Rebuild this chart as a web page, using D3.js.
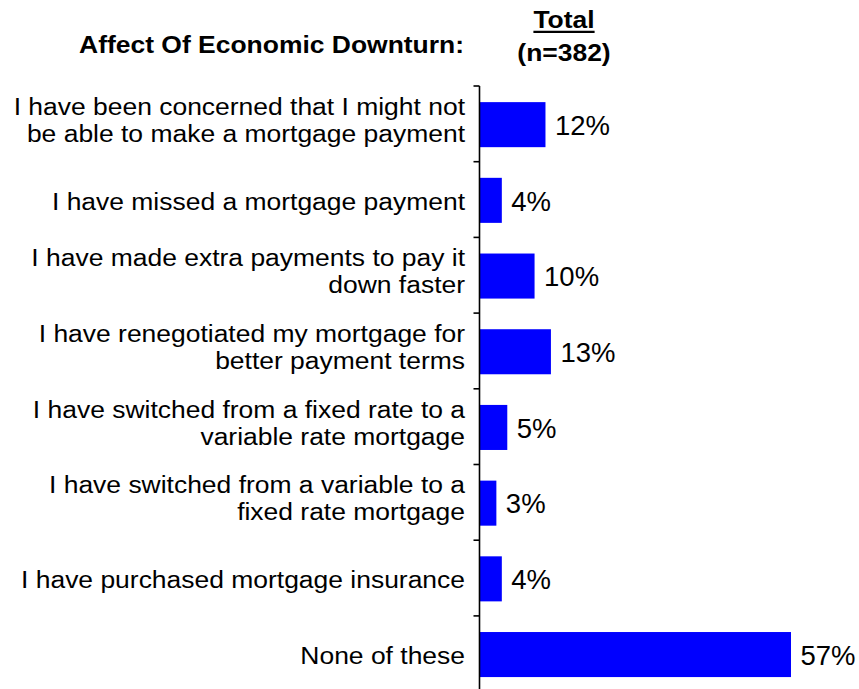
<!DOCTYPE html>
<html>
<head>
<meta charset="utf-8">
<script src="https://cdn.jsdelivr.net/npm/d3@7"></script>
<style>
  html, body { margin: 0; padding: 0; background: #ffffff; }
  svg { display: block; font-family: "Liberation Sans", Arial, Helvetica, sans-serif; }
</style>
</head>
<body>
<svg id="chart" width="859" height="689"></svg>
<script>
// Survey answers, one row per bar; "\n" marks the line break in the row label
const categories = [
  "I have been concerned that I might not\nbe able to make a mortgage payment",
  "I have missed a mortgage payment",
  "I have made extra payments to pay it\ndown faster",
  "I have renegotiated my mortgage for\nbetter payment terms",
  "I have switched from a fixed rate to a\nvariable rate mortgage",
  "I have switched from a variable to a\nfixed rate mortgage",
  "I have purchased mortgage insurance",
  "None of these"
];
const totalValues = [12, 4, 10, 13, 5, 3, 4, 57];

const headerTitle = "Affect Of Economic Downturn:";
const columnTitle = "Total";
const columnBase = "(n=382)";

const svg = d3.select("#chart");

// Layout
const axisX = 479.5;
const rowsTop = 86;
const rowStep = 75.7;
const labelRight = 465;
const stretch = 1.08;   // labels are set slightly wide

// Row bands (for ticks and labels) and bar bands (centred inside each row)
const yRow = d3.scaleBand()
  .domain(categories)
  .range([rowsTop, rowsTop + rowStep * categories.length])
  .padding(0);

const yBar = d3.scaleBand()
  .domain(categories)
  .range(yRow.range())
  .paddingInner(0.405)
  .paddingOuter(0.2025);

const x = d3.scaleLinear()
  .domain([0, 57])
  .range([axisX + 0.5, axisX + 0.5 + 311]);

// Header
svg.append("g")
  .attr("transform", `translate(464,52.5) scale(${stretch},1)`)
  .append("text")
  .attr("text-anchor", "end")
  .attr("font-size", 24.5)
  .attr("font-weight", "bold")
  .attr("fill", "#000")
  .text(headerTitle);

const totalG = svg.append("g")
  .attr("transform", `translate(564,28.3) scale(${stretch},1)`);
const totalText = totalG.append("text")
  .attr("text-anchor", "middle")
  .attr("font-size", 24.5)
  .attr("font-weight", "bold")
  .attr("fill", "#000")
  .text(columnTitle);
const tb = totalText.node().getBBox();
totalG.append("line")
  .attr("x1", tb.x).attr("x2", tb.x + tb.width)
  .attr("y1", 3.5).attr("y2", 3.5)
  .attr("stroke", "#000")
  .attr("stroke-width", 2.2);

svg.append("g")
  .attr("transform", `translate(564,61) scale(${stretch},1)`)
  .append("text")
  .attr("text-anchor", "middle")
  .attr("font-size", 24.5)
  .attr("font-weight", "bold")
  .attr("fill", "#000")
  .text(columnBase);

// Bars
svg.append("g")
  .selectAll("rect")
  .data(categories)
  .join("rect")
  .attr("x", x(0))
  .attr("y", d => yBar(d) + 0.8)
  .attr("width", (d, i) => x(totalValues[i]) - x(0))
  .attr("height", yBar.bandwidth())
  .attr("fill", "#0000ff");

// Value labels
svg.append("g")
  .selectAll("text")
  .data(categories)
  .join("text")
  .attr("x", (d, i) => x(totalValues[i]) + 9.5)
  .attr("y", d => yRow(d) + yRow.bandwidth() / 2 + 11)
  .attr("font-size", 27.5)
  .attr("fill", "#000")
  .text((d, i) => totalValues[i] + "%");

// Category axis: vertical line with ticks between rows
const axisG = svg.append("g");
axisG.append("line")
  .attr("x1", axisX).attr("x2", axisX)
  .attr("y1", yRow.range()[0]).attr("y2", yRow.range()[1])
  .attr("stroke", "#000")
  .attr("stroke-width", 1.6);
axisG.selectAll("line.tick")
  .data(categories)
  .join("line")
  .attr("class", "tick")
  .attr("x1", axisX - 6).attr("x2", axisX)
  .attr("y1", d => yRow(d)).attr("y2", d => yRow(d))
  .attr("stroke", "#000")
  .attr("stroke-width", 1.6);

// Category labels, right aligned against the axis
const labelG = svg.append("g")
  .selectAll("g")
  .data(categories)
  .join("g")
  .attr("transform", d => {
    const c = yRow(d) + yRow.bandwidth() / 2;
    const lines = d.split("\n");
    const base = lines.length > 1 ? c - 9 : c + 10;
    return `translate(${labelRight},${base}) scale(${stretch},1)`;
  });
labelG.append("text")
  .attr("text-anchor", "end")
  .attr("font-size", 24.5)
  .attr("fill", "#000")
  .selectAll("tspan")
  .data(d => d.split("\n"))
  .join("tspan")
  .attr("x", 0)
  .attr("dy", (t, i) => i === 0 ? 0 : 27)
  .text(t => t);
</script>
</body>
</html>
